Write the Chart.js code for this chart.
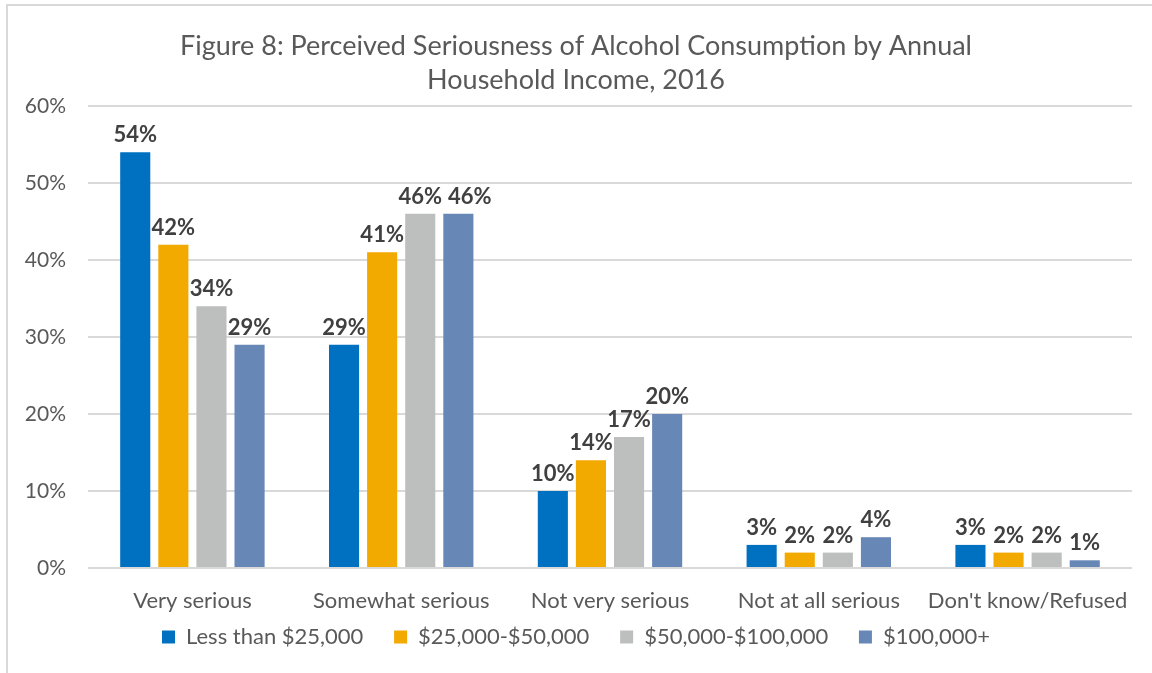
<!DOCTYPE html>
<html>
<head>
<meta charset="utf-8">
<script src="https://cdn.jsdelivr.net/npm/chart.js@4"></script>
<style>
  html, body { margin: 0; padding: 0; background: #fff; }
  #wrap { position: relative; width: 1152px; height: 673px; overflow: hidden; }
  #frame { position: absolute; left: 6px; top: 4px; right: -4px; bottom: -4px;
           border-left: 2px solid #d9d9d9; border-top: 2px solid #d9d9d9; }
  canvas { position: absolute; left: 0; top: 0; }
</style>
</head>
<body>
<div id="wrap">
  <canvas id="c" width="1152" height="673"></canvas>
  <div id="frame"></div>
</div>
<script>
const categories = ['Very serious', 'Somewhat serious', 'Not very serious', 'Not at all serious', "Don't know/Refused"];
const seriesNames = ['Less than $25,000', '$25,000-$50,000', '$50,000-$100,000', '$100,000+'];
const lessThan25k = [54, 29, 10, 3, 3];
const from25kTo50k = [42, 41, 14, 2, 2];
const from50kTo100k = [34, 46, 17, 2, 2];
const over100k = [29, 46, 20, 4, 1];
const yTicks = [0, 10, 20, 30, 40, 50, 60];

const colors = ['#0070C0', '#F2A900', '#BDBEBE', '#6787B7'];
const FONT = 'Lato, "Liberation Sans", sans-serif';

// Bold value labels above each bar; a label that would collide with the
// previous one in its group is nudged to the right.
const valueLabels = {
  id: 'valueLabels',
  afterDatasetsDraw(chart) {
    const ctx = chart.ctx;
    ctx.save();
    ctx.font = 'bold 22px ' + FONT;
    ctx.fillStyle = '#404040';
    ctx.textAlign = 'center';
    ctx.textBaseline = 'alphabetic';
    const n = chart.data.labels.length;
    for (let j = 0; j < n; j++) {
      let prev = null;
      chart.data.datasets.forEach((ds, i) => {
        const bar = chart.getDatasetMeta(i).data[j];
        const text = ds.data[j] + '%';
        const w = ctx.measureText(text).width;
        let x = bar.x;
        const y = bar.y - 10;
        if (prev && Math.abs(prev.y - y) < 18 && x - w / 2 < prev.right + 6) {
          x = prev.right + 6 + w / 2;
        }
        ctx.fillText(text, x, y);
        prev = { right: x + w / 2, y };
      });
    }
    ctx.restore();
  }
};

const seriesData = [lessThan25k, from25kTo50k, from50kTo100k, over100k];

new Chart(document.getElementById('c'), {
  type: 'bar',
  data: {
    labels: categories,
    datasets: seriesNames.map((name, i) => ({
      label: name,
      data: seriesData[i],
      backgroundColor: colors[i],
      borderWidth: 0,
      barPercentage: 0.79,
      categoryPercentage: 0.73
    }))
  },
  options: {
    responsive: false,
    animation: false,
    layout: { padding: { left: 20, right: 20, top: 0, bottom: 15 } },
    plugins: {
      title: {
        display: true,
        text: ['Figure 8: Perceived Seriousness of Alcohol Consumption by Annual', 'Household Income, 2016'],
        color: '#595959',
        font: { family: FONT, size: 27, weight: 'normal', lineHeight: 1.26 },
        padding: { top: 29, bottom: 9 }
      },
      legend: {
        position: 'bottom',
        labels: {
          color: '#595959',
          font: { family: FONT, size: 22 },
          boxWidth: 13,
          boxHeight: 13,
          padding: 6,
          generateLabels(chart) {
            const items = Chart.defaults.plugins.legend.labels.generateLabels(chart);
            items.forEach((item, i) => {
              if (i < items.length - 1) item.text += '\u2002\u2002\u2009';
            });
            return items;
          }
        }
      },
      tooltip: { enabled: false }
    },
    scales: {
      x: {
        grid: { display: false },
        border: { display: false },
        ticks: { color: '#595959', font: { family: FONT, size: 22 }, padding: 12 },
        afterFit(s) { s.height = 52; }
      },
      y: {
        min: 0,
        max: 60,
        afterBuildTicks(s) { s.ticks = yTicks.map(v => ({ value: v })); },
        grid: { color: '#d9d9d9', lineWidth: 2, drawTicks: false },
        border: { display: false },
        ticks: { color: '#595959', font: { family: FONT, size: 21 }, padding: 22,
                 callback: v => v + '%' },
        afterFit(s) { s.width = 68; }
      }
    }
  },
  plugins: [valueLabels]
});
</script>
</body>
</html>
